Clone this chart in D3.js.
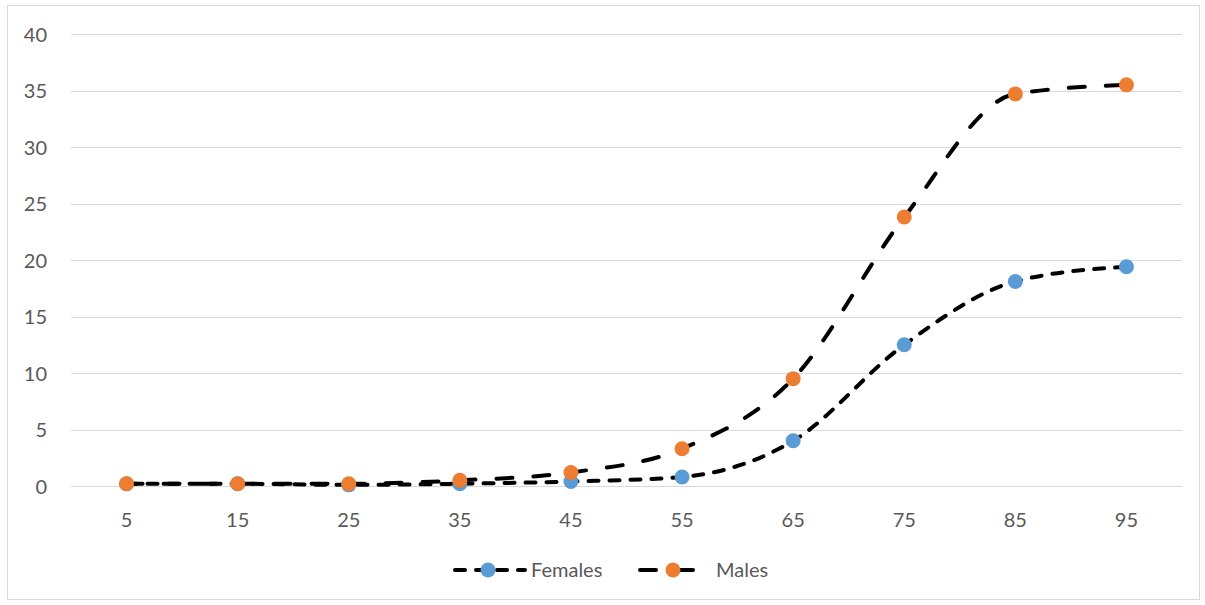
<!DOCTYPE html>
<html><head><meta charset="utf-8">
<script src="https://cdn.jsdelivr.net/npm/d3@7"></script>
<style>
html,body{margin:0;padding:0;background:#fff;}
text{font-family:Lato,"Open Sans",sans-serif;fill:#595959;}
</style></head>
<body>
<svg id="chart" width="1205" height="605"></svg>
<script>
const categories = ["5","15","25","35","45","55","65","75","85","95"];
const females = [0.2,0.2,0.1,0.2,0.4,0.8,4.0,12.5,18.1,19.4];
const males = [0.2,0.2,0.2,0.5,1.2,3.3,9.5,23.8,34.7,35.5];
const yTicks = [0,5,10,15,20,25,30,35,40];
const seriesNames = ["Females","Males"];

(function(){
const svg = d3.select("#chart");
const plotLeft = 71, plotRight = 1182, plotTop = 34, plotBottom = 486;
const fs = "20px";

svg.append("rect").attr("x",7.5).attr("y",5.5).attr("width",1192).attr("height",594)
  .attr("fill","#fff").attr("stroke","#d9d9d9").attr("stroke-width",1);

const x = d3.scaleBand().domain(categories).range([plotLeft,plotRight]);
const y = d3.scaleLinear().domain([0,40]).range([plotBottom,plotTop]);

svg.append("g").selectAll("line").data(yTicks).join("line")
  .attr("x1",plotLeft).attr("x2",plotRight)
  .attr("y1",d=>Math.round(y(d))+0.5).attr("y2",d=>Math.round(y(d))+0.5)
  .attr("stroke","#d9d9d9").attr("stroke-width",1);

const yAxis = d3.axisLeft(y).tickValues(yTicks).tickSize(0).tickPadding(0);
const gy = svg.append("g").attr("transform",`translate(47,0)`).call(yAxis);
gy.select(".domain").remove();
gy.selectAll("text").style("font-size",fs).style("font-family","Lato").attr("fill","#595959").attr("dy","0.35em");

const xAxis = d3.axisBottom(x).tickSize(0).tickPadding(0);
const gx = svg.append("g").attr("transform",`translate(0,${plotBottom+34})`).call(xAxis);
gx.select(".domain").remove();
gx.selectAll("text").style("font-size",fs).style("font-family","Lato").attr("fill","#595959").attr("dy","0.35em");

const cx = c => x(c) + x.bandwidth()/2;
const line = d3.line().x((d,i)=>cx(categories[i])).y(d=>y(d)).curve(d3.curveMonotoneX);

const styles = [
  {data:females, color:"#5B9BD5", dash:"10,11"},
  {data:males, color:"#ED7D31", dash:"16,21"}
];

styles.forEach(s=>{
  svg.append("path").datum(s.data).attr("d",line)
    .attr("fill","none").attr("stroke","#000").attr("stroke-width",4)
    .attr("stroke-linecap","round").attr("stroke-dasharray",s.dash);
  svg.append("g").selectAll("circle").data(s.data).join("circle")
    .attr("cx",(d,i)=>cx(categories[i])).attr("cy",d=>y(d)).attr("r",7.5)
    .attr("fill",s.color);
});

const legendItems = [
  {name:seriesNames[0], x1:455, x2:525, mx:488, tx:531, color:"#5B9BD5", dash:"10,11"},
  {name:seriesNames[1], x1:640, x2:706, mx:673, tx:716, color:"#ED7D31", dash:"16,21"}
];
const ly = 570;
legendItems.forEach(l=>{
  svg.append("line").attr("x1",l.x1).attr("x2",l.x2).attr("y1",ly).attr("y2",ly)
    .attr("stroke","#000").attr("stroke-width",4).attr("stroke-linecap","round")
    .attr("stroke-dasharray",l.dash);
  svg.append("circle").attr("cx",l.mx).attr("cy",ly).attr("r",7.5).attr("fill",l.color);
  svg.append("text").attr("x",l.tx).attr("y",ly).attr("dy","0.35em")
    .style("font-size",fs).attr("fill","#595959").text(l.name);
});
})();
</script>
</body></html>
